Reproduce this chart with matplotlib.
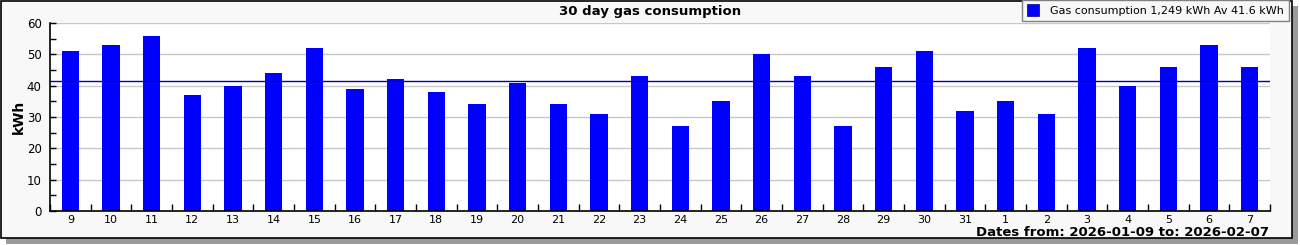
import matplotlib
matplotlib.use("Agg")
import matplotlib.pyplot as plt
from matplotlib.patches import Rectangle
import numpy as np

#-----Data-----#
days = ["9", "10", "11", "12", "13", "14", "15", "16", "17", "18",
        "19", "20", "21", "22", "23", "24", "25", "26", "27", "28",
        "29", "30", "31", "1", "2", "3", "4", "5", "6", "7"]
gas_kwh = [51, 53, 56, 37, 40, 44, 52, 39, 42, 38,
           34, 41, 34, 31, 43, 27, 35, 50, 43, 27,
           46, 51, 32, 35, 31, 52, 40, 46, 53, 46]
date_from = "2026-01-09"
date_to = "2026-02-07"

total = sum(gas_kwh)
average = total / len(gas_kwh)

W, H = 1300, 245
fig = plt.figure(figsize=(W / 100, H / 100), dpi=100)
fig.patch.set_facecolor("white")

# frame with drop shadow (behind the axes)
fig.patches.append(Rectangle((6 / W, 1 / H), 1292 / W, 238 / H, transform=fig.transFigure,
                             facecolor="#9a9a9a", edgecolor="none", zorder=-2))
fig.patches.append(Rectangle((1 / W, 7 / H), 1291 / W, 237 / H, transform=fig.transFigure,
                             facecolor="#f8f8f8", edgecolor="black", linewidth=1.2, zorder=-1))

ax = fig.add_axes([50 / W, 34 / H, 1220 / W, 188 / H])
ax.set_facecolor("white")

x = np.arange(len(days))
ax.bar(x, gas_kwh, width=0.42, color="#0000ff", zorder=3)
ax.axhline(average, color="#0000b0", linewidth=1, zorder=4)

ax.set_xlim(-0.5, len(days) - 0.5)
ax.set_ylim(0, 60)

# x ticks: marks at category boundaries, labels at centres
ax.set_xticks(np.arange(len(days) + 1) - 0.5)
ax.set_xticklabels([])
ax.set_xticks(x, minor=True)
ax.set_xticklabels(days, minor=True)
ax.tick_params(axis="x", which="major", direction="in", length=5, width=1)
ax.tick_params(axis="x", which="minor", length=0, pad=3, labelsize=8)

ax.set_yticks(np.arange(0, 61, 10))
ax.set_yticks(np.arange(0, 61, 5), minor=True)
ax.tick_params(axis="y", which="both", direction="in", length=4, width=1,
               labelsize=8.5, pad=6)
ax.grid(True, axis="y", which="major", color="#c8c8c8", linewidth=1, zorder=1)

for s in ["top", "right"]:
    ax.spines[s].set_visible(False)
for s in ["left", "bottom"]:
    ax.spines[s].set_linewidth(1.2)
    ax.spines[s].set_zorder(5)

ax.set_ylabel("kWh", fontsize=10, fontweight="bold", labelpad=1)

fig.text(0.5, 1 - 11 / H, "30 day gas consumption", ha="center", va="center",
         fontsize=9.5, fontweight="bold")
fig.text(1269 / W, 1 - 232 / H, "Dates from: " + date_from + " to: " + date_to,
         ha="right", va="center", fontsize=9.5, fontweight="bold")

handle = plt.Line2D([], [], marker="s", linestyle="", markersize=8, color="#0000ff",
                    markeredgecolor="#000080", markeredgewidth=0.5)
leg = fig.legend([handle], ["Gas consumption {:,} kWh Av {:.1f} kWh".format(total, average)],
                 loc="upper right", bbox_to_anchor=(1289 / W, 1.0), fontsize=8,
                 fancybox=False, framealpha=1, facecolor="#f8f8f8", edgecolor="#808080",
                 borderpad=0.5, handletextpad=1.0, handlelength=1.0, borderaxespad=0)
leg.get_frame().set_linewidth(1)
leg.set_zorder(10)

fig.savefig("out.png", dpi=100)
